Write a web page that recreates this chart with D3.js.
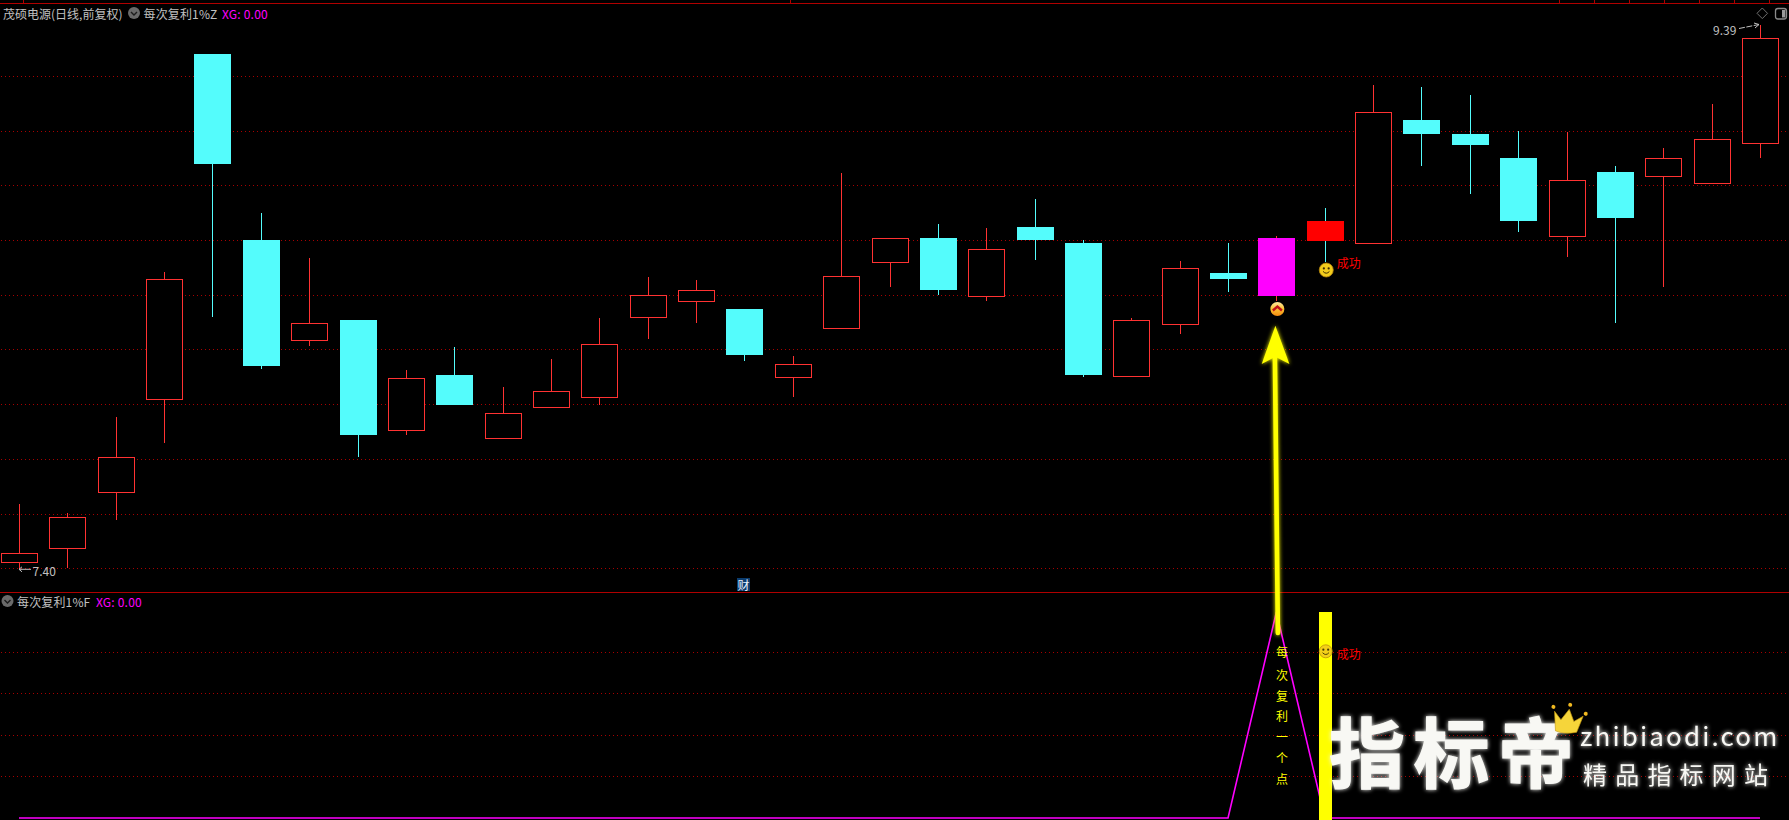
<!DOCTYPE html>
<html lang="zh">
<head>
<meta charset="utf-8">
<title>每次复利1%</title>
<script src="https://cdn.jsdelivr.net/npm/d3@7"></script>
<style>
html,body{margin:0;padding:0;background:#000;overflow:hidden}
svg{display:block}
text{font-family:"Noto Sans CJK SC","Noto Sans",sans-serif}
</style>
</head>
<body>
<svg id="chart" width="1789" height="820"></svg>
<script>
const opens  = [7.428,7.479,7.681,8.021,9.284,8.604,8.240,8.311,7.911,8.110,7.879,7.992,8.029,8.321,8.380,8.352,8.102,8.281,8.522,8.611,8.400,8.651,8.593,8.108,8.298,8.483,8.399,8.673,8.592,9.043,8.991,8.904,8.620,8.853,8.839,8.811,8.960];
const closes = [7.458,7.590,7.809,8.460,8.882,8.143,8.299,7.891,8.101,8.001,7.970,8.051,8.223,8.402,8.420,8.183,8.149,8.471,8.610,8.421,8.571,8.604,8.110,8.310,8.500,8.461,8.611,8.600,9.071,8.991,8.951,8.673,8.822,8.684,8.903,8.972,9.341];
const highs  = [7.639,7.607,7.957,8.487,9.284,8.703,8.538,8.311,8.129,8.213,8.066,8.169,8.319,8.469,8.458,8.352,8.180,8.849,8.610,8.662,8.648,8.754,8.604,8.319,8.527,8.593,8.619,8.721,9.171,9.163,9.134,9.002,8.999,8.874,8.940,9.101,9.390];
const lows   = [7.400,7.403,7.581,7.863,8.324,8.134,8.215,7.812,7.892,8.001,7.879,7.992,8.001,8.242,8.302,8.162,8.030,8.281,8.433,8.403,8.382,8.532,8.104,8.108,8.261,8.414,8.381,8.523,8.592,8.874,8.772,8.633,8.542,8.300,8.432,8.811,8.904];
const signalF = [0,0,0,0,0,0,0,0,0,0,0,0,0,0,0,0,0,0,0,0,0,0,0,0,0,0,1,0,0,0,0,0,0,0,0,0,0];
const buyIndex = 26;
const sellIndex = 27;
const priceTicks = [7.4,7.6,7.8,8.0,8.2,8.4,8.6,8.8,9.0,9.2];
const signalTicks = [0.2,0.4,0.6,0.8];
const topTickPositions = [23,790,1559.5,1594.5,1629.5,1664.5,1699.5,1734.5,1769.5];
const stockTitle = "茂硕电源(日线,前复权)";
const upperName = "每次复利1%Z";
const lowerName = "每次复利1%F";
const xgLabel = "XG: 0.00";
const sideLabel = "每次复利一个点";
const successLabel = "成功";
const lowLabel = "7.40";
const highLabel = "9.39";

const RED="#ff3232", CYAN="#54fcfc", MAG="#ff00ff", YEL="#ffff00", GREY="#c0c0c0", LINE="#b00000", DOT="#a80000";

const svg = d3.select("#chart");
const W = 1789;
const idx = d3.range(opens.length);
const x = d3.scalePoint().domain(idx).range([19,1760]);
const y = d3.scaleLinear().domain([7.4,9.39]).range([569.3,25]);
const yF = d3.scaleLinear().domain([0,1]).range([818,612]);
const px = i => Math.round(x(i));

const defs = svg.append("defs");
const glow = defs.append("filter").attr("id","glow").attr("x","-40%").attr("y","-40%").attr("width","180%").attr("height","180%");
glow.append("feGaussianBlur").attr("stdDeviation",2).attr("result","b");
const fm = glow.append("feMerge"); fm.append("feMergeNode").attr("in","b"); fm.append("feMergeNode").attr("in","SourceGraphic");
const softGlow = defs.append("filter").attr("id","softGlow").attr("x","-10%").attr("y","-30%").attr("width","120%").attr("height","160%");
softGlow.append("feGaussianBlur").attr("stdDeviation",2.2).attr("result","b");
const fm2 = softGlow.append("feMerge"); fm2.append("feMergeNode").attr("in","b"); fm2.append("feMergeNode").attr("in","SourceGraphic");
const orange = defs.append("linearGradient").attr("id","orange").attr("x1",0).attr("y1",0).attr("x2",0).attr("y2",1);
orange.append("stop").attr("offset","0").attr("stop-color","#ffe9a0");
orange.append("stop").attr("offset","0.5").attr("stop-color","#f9c030");
orange.append("stop").attr("offset","1").attr("stop-color","#f58a10");

// frame lines
const frame = svg.append("g").attr("shape-rendering","crispEdges");
[3,592].forEach(v => frame.append("line").attr("x1",0).attr("x2",W).attr("y1",v+.5).attr("y2",v+.5).attr("stroke",LINE));
frame.selectAll("line.t").data(topTickPositions).join("line").attr("class","t")
  .attr("x1",d=>d).attr("x2",d=>d).attr("y1",0).attr("y2",3).attr("stroke",LINE);

// dotted grids
const grid = svg.append("g").attr("shape-rendering","crispEdges").attr("stroke",DOT).attr("stroke-dasharray","1,3");
grid.selectAll("line.p").data(priceTicks).join("line").attr("class","p")
  .attr("x1",1).attr("x2",W).attr("y1",d=>Math.round(y(d))-.5).attr("y2",d=>Math.round(y(d))-.5);
grid.selectAll("line.s").data(signalTicks).join("line").attr("class","s")
  .attr("x1",1).attr("x2",W).attr("y1",d=>Math.round(yF(d))-.5).attr("y2",d=>Math.round(yF(d))-.5);

// candles
const candles = svg.append("g").attr("shape-rendering","crispEdges");
const isUp = i => closes[i] >= opens[i];
candles.selectAll("line.w").data(idx).join("line").attr("class","w")
  .attr("x1",i=>px(i)+.5).attr("x2",i=>px(i)+.5)
  .attr("y1",i=>y(highs[i])).attr("y2",i=>y(lows[i]))
  .attr("stroke",i=>isUp(i)?RED:CYAN);
candles.selectAll("rect.b").data(idx).join("rect").attr("class","b")
  .each(function(i){
    const top = Math.round(y(Math.max(opens[i],closes[i])));
    const bot = Math.round(y(Math.min(opens[i],closes[i])));
    const s = d3.select(this);
    if(i===buyIndex||i===sellIndex){
      s.attr("x",px(i)-18).attr("width",37).attr("y",top).attr("height",bot-top)
       .attr("fill",i===buyIndex?MAG:"#ff0000");
    } else if(isUp(i)){
      s.attr("x",px(i)-18+.5).attr("width",36).attr("y",top+.5).attr("height",bot-top)
       .attr("fill","#000").attr("stroke",RED);
    } else {
      s.attr("x",px(i)-18).attr("width",37).attr("y",top).attr("height",bot-top).attr("fill",CYAN);
    }
  });

// lower panel
svg.append("path").datum(idx)
  .attr("fill","none").attr("stroke",MAG).attr("stroke-width",1.6)
  .attr("d",d3.line().x(i=>x(i)).y(i=>yF(signalF[i])));
svg.append("rect").attr("x",px(sellIndex)-6).attr("width",13)
  .attr("y",yF(1)).attr("height",yF(0)-yF(1)+1.5).attr("fill",YEL).attr("shape-rendering","crispEdges");

// titles
function label(t,xp,yp,col,size,anchor,ls){
  return svg.append("text").attr("x",xp).attr("y",yp).attr("fill",col).attr("font-size",size||12)
    .attr("text-anchor",anchor||"start").attr("dominant-baseline","central").attr("letter-spacing",ls||0).text(t);
}
function chevron(cx,cy){
  const g = svg.append("g").attr("transform",`translate(${cx},${cy})`);
  g.append("circle").attr("r",6).attr("fill","#6a6a6a");
  g.append("path").attr("d","M-3,-1 L0,2 L3,-1").attr("fill","none").attr("stroke","#1c1c1c").attr("stroke-width",1.4);
}
label(stockTitle,3,13,GREY,12);
chevron(134,13);
label(upperName,143.5,13,GREY,12,"start",.15);
label(xgLabel,222,13,MAG,12,"start",.2);
chevron(7.5,601);
label(lowerName,17,601,GREY,12,"start",.15);
label(xgLabel,96,601,MAG,12,"start",.2);

// extreme labels
const loG = svg.append("g").attr("stroke",GREY).attr("fill","none");
loG.append("path").attr("d",`M${x(0)},${y(7.4)} h12 M${x(0)+3},${y(7.4)-2.5} L${x(0)},${y(7.4)} L${x(0)+3},${y(7.4)+2.5}`);
label(lowLabel,x(0)+13.5,y(7.4)+1,GREY,12);
label(highLabel,x(36)-47,y(9.39)+4,GREY,12);
svg.append("path").attr("stroke",GREY).attr("fill","none").attr("stroke-dasharray","6,1.5")
  .attr("d",`M${x(36)-21},${y(9.39)+3.5} L${x(36)-1},${y(9.39)-.5}`);
svg.append("path").attr("stroke",GREY).attr("fill","none")
  .attr("d",`M${x(36)-6},${y(9.39)-2} L${x(36)-1},${y(9.39)-.5} L${x(36)-5},${y(9.39)+3}`);

// top right icons
svg.append("path").attr("d","M1762.3,8 L1767.5,13.3 L1762.3,18.6 L1757,13.3 Z").attr("fill","none").attr("stroke","#707070");
svg.append("rect").attr("x",1775.5).attr("y",8.5).attr("width",11).attr("height",10.5).attr("rx",2.5).attr("fill","none").attr("stroke","#8a8a8a").attr("stroke-width",1.3);
svg.append("rect").attr("x",1782).attr("y",10).attr("width",3.4).attr("height",7.5).attr("fill","#9a9a9a");

// cai badge
svg.append("rect").attr("x",737).attr("y",578).attr("width",13).attr("height",13).attr("fill","#0b3c6e");
label("财",743.5,584.5,"#e8f2ff",12,"middle");

// vertical annotation
const vertX = x(buyIndex)+5.5;
const vertY = [651.7,674.3,695,715.7,736.7,757.3,778.3];
svg.selectAll("text.v").data(Array.from(sideLabel)).join("text").attr("class","v")
  .attr("x",vertX).attr("y",(d,i)=>vertY[i]).attr("fill",YEL).attr("font-size",12)
  .attr("text-anchor","middle").attr("dominant-baseline","central").text(d=>d);

// success labels
label(successLabel,x(sellIndex)+12,262,"#ff0000",12);
label(successLabel,x(sellIndex)+12,653.3,"#ff0000",12);

function smiley(cx,cy,r,op){
  const g = svg.append("g").attr("transform",`translate(${cx},${cy})`).attr("opacity",op||1);
  g.append("circle").attr("r",r).attr("fill","#f2cc1c").attr("stroke","#b8860b").attr("stroke-width",.8);
  g.append("circle").attr("cx",-2.4).attr("cy",-1.6).attr("r",1.1).attr("fill","#3a2a00");
  g.append("circle").attr("cx",2.4).attr("cy",-1.6).attr("r",1.1).attr("fill","#3a2a00");
  g.append("path").attr("d","M-3.2,1.4 Q0,5 3.2,1.4").attr("fill","none").attr("stroke","#3a2a00").attr("stroke-width",1);
}
smiley(x(sellIndex)+1.5,270,7);
smiley(x(sellIndex)+1,651.3,6.5,.9);

// buy icon
const icon = svg.append("g").attr("transform",`translate(${x(buyIndex)+1},309)`);
icon.append("circle").attr("r",7).attr("fill","url(#orange)");
icon.append("path").attr("d","M-4.5,1.5 L0,-2.5 L4.5,1.5").attr("fill","none").attr("stroke","#c01018").attr("stroke-width",2.4);

// big arrow annotation
const ax = x(buyIndex);
const arrow = svg.append("g").attr("filter","url(#glow)");
arrow.append("line").attr("x1",ax-1.5).attr("y1",356).attr("x2",ax+1.5).attr("y2",633)
  .attr("stroke",YEL).attr("stroke-width",4.6).attr("stroke-linecap","round");
arrow.append("path").attr("fill",YEL)
  .attr("d",`M${ax-1},325.7 L${ax+13},364 L${ax-1},356.7 L${ax-14.7},364 Z`);

// watermark
const wm = svg.append("g").attr("fill","#f8f8f4").attr("filter","url(#softGlow)");
wm.append("text").attr("x",1329).attr("y",749).attr("font-size",76).attr("font-weight",700)
  .attr("stroke","#f8f8f4").attr("stroke-width",1.2)
  .attr("dominant-baseline","central").attr("letter-spacing",8.5).text("指标帝");
wm.append("text").attr("x",1580).attr("y",734).attr("font-size",26).attr("font-family","Lato")
  .attr("dominant-baseline","central").attr("letter-spacing",2.15).text("zhibiaodi.com");
wm.append("text").attr("x",1583).attr("y",773.5).attr("font-size",24)
  .attr("dominant-baseline","central").attr("letter-spacing",8.2).text("精品指标网站");
const crown = svg.append("g").attr("transform","translate(1567,720) rotate(12)");
crown.append("path").attr("fill","#f6d53a").attr("stroke","#c79a10").attr("stroke-width",.6)
  .attr("d","M-14,-6 L-6,1 L0,-11 L7,0 L15,-7 L12,10 Q0,15 -9,13 Z");
[[-16,-10],[0,-15.5],[17,-10]].forEach(p=>crown.append("circle").attr("cx",p[0]).attr("cy",p[1]).attr("r",2).attr("fill","#f0b820"));
</script>
</body>
</html>
